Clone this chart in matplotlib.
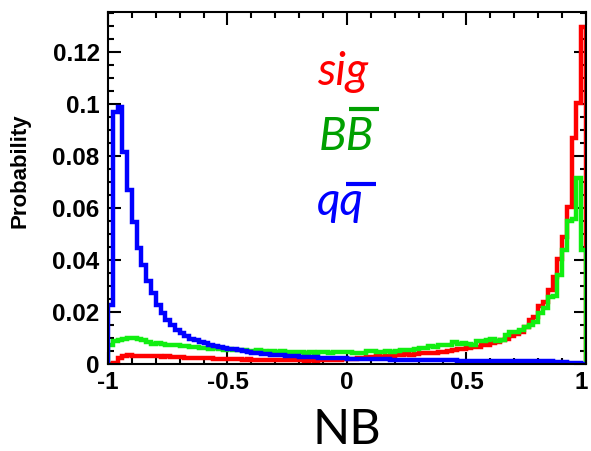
import numpy as np
import matplotlib
matplotlib.use("Agg")
import matplotlib.pyplot as plt
from matplotlib.ticker import MultipleLocator
from matplotlib.transforms import ScaledTranslation

# NB output distributions, 100 bins on [-1, 1], normalised to unit area
edges = np.linspace(-1, 1, 101)

sig = [
    0.0000, 0.0004, 0.0022, 0.0030, 0.0033, 0.0032, 0.0031, 0.0030, 0.0029, 0.0031,
    0.0030, 0.0028, 0.0029, 0.0027, 0.0026, 0.0027, 0.0025, 0.0024, 0.0025, 0.0023,
    0.0022, 0.0023, 0.0021, 0.0020, 0.0021, 0.0019, 0.0018, 0.0019, 0.0017, 0.0018,
    0.0017, 0.0016, 0.0017, 0.0015, 0.0016, 0.0015, 0.0014, 0.0015, 0.0014, 0.0014,
    0.0014, 0.0013, 0.0014, 0.0013, 0.0014, 0.0015, 0.0014, 0.0016, 0.0017, 0.0018,
    0.0019, 0.0020, 0.0022, 0.0025, 0.0027, 0.0028, 0.0029, 0.0028, 0.0030, 0.0032,
    0.0035, 0.0036, 0.0037, 0.0036, 0.0039, 0.0041, 0.0042, 0.0041, 0.0044, 0.0046,
    0.0047, 0.0049, 0.0053, 0.0057, 0.0056, 0.0060, 0.0064, 0.0066, 0.0072, 0.0074,
    0.0080, 0.0084, 0.0092, 0.0097, 0.0108, 0.0114, 0.0124, 0.0144, 0.0169, 0.0182,
    0.0225, 0.0238, 0.0285, 0.0336, 0.0405, 0.0490, 0.0605, 0.0870, 0.1005, 0.1295,
]

bbbar = [
    0.0075, 0.0088, 0.0094, 0.0097, 0.0100, 0.0099, 0.0095, 0.0093, 0.0085, 0.0078,
    0.0080, 0.0077, 0.0074, 0.0072, 0.0073, 0.0069, 0.0068, 0.0066, 0.0067, 0.0063,
    0.0060, 0.0058, 0.0061, 0.0057, 0.0055, 0.0058, 0.0054, 0.0052, 0.0055, 0.0051,
    0.0050, 0.0053, 0.0049, 0.0048, 0.0051, 0.0047, 0.0049, 0.0046, 0.0048, 0.0045,
    0.0047, 0.0044, 0.0046, 0.0043, 0.0045, 0.0047, 0.0044, 0.0046, 0.0045, 0.0047,
    0.0046, 0.0044, 0.0041, 0.0042, 0.0050, 0.0051, 0.0048, 0.0047, 0.0049, 0.0048,
    0.0050, 0.0052, 0.0055, 0.0053, 0.0058, 0.0061, 0.0060, 0.0068, 0.0066, 0.0073,
    0.0072, 0.0075, 0.0083, 0.0078, 0.0080, 0.0076, 0.0073, 0.0088, 0.0090, 0.0092,
    0.0095, 0.0090, 0.0092, 0.0110, 0.0122, 0.0124, 0.0130, 0.0142, 0.0150, 0.0160,
    0.0196, 0.0215, 0.0258, 0.0262, 0.0342, 0.0440, 0.0550, 0.0556, 0.0715, 0.0440,
]

qqbar = [
    0.0227, 0.0970, 0.0987, 0.0817, 0.0669, 0.0547, 0.0448, 0.0380, 0.0320, 0.0272,
    0.0228, 0.0195, 0.0170, 0.0150, 0.0132, 0.0118, 0.0108, 0.0098, 0.0092, 0.0086,
    0.0080, 0.0075, 0.0070, 0.0066, 0.0062, 0.0059, 0.0056, 0.0054, 0.0050, 0.0047,
    0.0044, 0.0042, 0.0040, 0.0038, 0.0036, 0.0035, 0.0033, 0.0032, 0.0030, 0.0029,
    0.0028, 0.0027, 0.0027, 0.0026, 0.0025, 0.0024, 0.0023, 0.0023, 0.0022, 0.0022,
    0.0021, 0.0021, 0.0021, 0.0020, 0.0020, 0.0020, 0.0019, 0.0019, 0.0019, 0.0017,
    0.0016, 0.0015, 0.0015, 0.0015, 0.0015, 0.0014, 0.0014, 0.0014, 0.0014, 0.0014,
    0.0014, 0.0014, 0.0014, 0.0013, 0.0013, 0.0013, 0.0013, 0.0013, 0.0013, 0.0013,
    0.0013, 0.0013, 0.0013, 0.0013, 0.0013, 0.0013, 0.0013, 0.0013, 0.0012, 0.0012,
    0.0012, 0.0012, 0.0011, 0.0009, 0.0008, 0.0007, 0.0005, 0.0004, 0.0002, 0.0001,
]

xtick_vals = [-1, -0.5, 0, 0.5, 1]
xtick_text = ['-1', '-0.5', '0', '0.5', '1']
ytick_vals = [0, 0.02, 0.04, 0.06, 0.08, 0.1, 0.12]
ytick_text = ['0', '0.02', '0.04', '0.06', '0.08', '0.1', '0.12']

plt.rcParams['font.family'] = ['Liberation Sans', 'DejaVu Sans']

fig = plt.figure(figsize=(5.91, 4.51), dpi=100)
ax = fig.add_axes([0.1827, 0.1929, 0.8088, 0.7805])

ax.stairs(sig, edges, color='#ff0000', lw=3.2, zorder=2)
ax.stairs(bbbar, edges, color='#11ee11', lw=3.2, zorder=3)
ax.stairs(qqbar, edges, color='#0000ff', lw=3.2, zorder=4)

ax.set_xlim(-1, 1)
ax.set_ylim(0, 0.1354)

ax.xaxis.set_minor_locator(MultipleLocator(0.1))
ax.yaxis.set_minor_locator(MultipleLocator(0.005))
tick_font = dict(family='Liberation Sans', weight='bold', size=17.5)
ax.set_xticks(xtick_vals, xtick_text, fontdict=tick_font)
ax.set_yticks(ytick_vals, ytick_text, fontdict=tick_font)

ax.tick_params(which='both', direction='in', top=True, right=True, width=1.5)
ax.tick_params(which='major', length=9)
ax.tick_params(which='minor', length=4.5)
ax.tick_params(axis='x', pad=5)
ax.tick_params(axis='y', pad=6)
for sp in ax.spines.values():
    sp.set_linewidth(1.5)
    sp.set_zorder(5)

# nudge the last x label inwards so it stays on the canvas
last = ax.get_xticklabels()[-1]
last.set_transform(last.get_transform() + ScaledTranslation(-3.5 / 72, 0, fig.dpi_scale_trans))

ax.set_ylabel('Probability', fontsize=16, fontweight='bold', family='Liberation Sans')
ax.yaxis.set_label_coords(-0.162, 0.55)
ax.set_xlabel('NB', fontsize=35, family='Lato')
ax.xaxis.set_label_coords(0.5, -0.125)

# legend-style labels, italic, with thick bars over the anti-particles
lab_kw = dict(fontsize=33, family='Lato', style='italic',
              transform=ax.transAxes, ha='left', va='baseline')
ax.text(0.437, 0.793, 'sig', color='#ff0000', **lab_kw)
ax.text(0.440, 0.608, 'BB', color='#00a000', **lab_kw)
ax.text(0.437, 0.423, 'qq', color='#0000ff', **lab_kw)
ax.plot([0.505, 0.568], [0.724, 0.724], color='#00a000', lw=3,
        transform=ax.transAxes, solid_capstyle='butt')
ax.plot([0.497, 0.560], [0.511, 0.511], color='#0000ff', lw=3,
        transform=ax.transAxes, solid_capstyle='butt')

fig.savefig('out.png', dpi=100)
